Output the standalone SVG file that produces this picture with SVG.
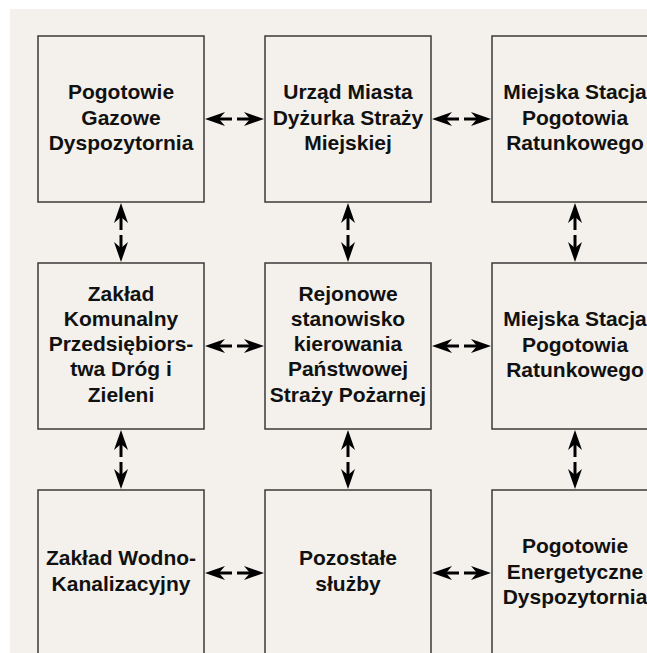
<svg xmlns="http://www.w3.org/2000/svg" width="647" height="653" viewBox="0 0 647 653">
<style>
.box{fill:none;stroke:#3a3a3a;stroke-width:1.5}
.t{font-family:"Liberation Sans",Arial,Helvetica,sans-serif;font-weight:bold;font-size:21px;fill:#111;text-anchor:middle}
.c{stroke:#000;stroke-width:3;fill:none;marker-end:url(#ah)}
</style>
<defs>
<marker id="ah" markerUnits="userSpaceOnUse" markerWidth="22" markerHeight="16" refX="6" refY="7" orient="auto" viewBox="0 0 22 16">
<path d="M0,0 L20,7 L0,14 L6,7 Z" fill="#000"/>
</marker>
</defs>
<rect x="0" y="0" width="647" height="653" fill="#ffffff"/>
<rect x="10" y="9" width="637" height="644" fill="#f4f1ec"/>

<g id="n1"><rect class="box" x="38" y="36" width="166" height="166"/>
<text class="t" x="121"><tspan x="121" y="99">Pogotowie</tspan><tspan x="121" y="124.5">Gazowe</tspan><tspan x="121" y="150">Dyspozytornia</tspan></text></g>
<g id="n2"><rect class="box" x="265" y="36" width="166" height="166"/>
<text class="t"><tspan x="348" y="99">Urząd Miasta</tspan><tspan x="348" y="124.5">Dyżurka Straży</tspan><tspan x="348" y="150">Miejskiej</tspan></text></g>
<g id="n3"><rect class="box" x="492" y="36" width="166" height="166"/>
<text class="t"><tspan x="575" y="99">Miejska Stacja</tspan><tspan x="575" y="124.5">Pogotowia</tspan><tspan x="575" y="150">Ratunkowego</tspan></text></g>

<g id="n4"><rect class="box" x="38" y="263" width="166" height="166"/>
<text class="t"><tspan x="121" y="300.5">Zakład</tspan><tspan x="121" y="325.8">Komunalny</tspan><tspan x="121" y="351">Przedsiębiors-</tspan><tspan x="121" y="376.4">twa Dróg i</tspan><tspan x="121" y="401.7">Zieleni</tspan></text></g>
<g id="n5"><rect class="box" x="265" y="263" width="166" height="166"/>
<text class="t"><tspan x="348" y="300.5">Rejonowe</tspan><tspan x="348" y="325.8">stanowisko</tspan><tspan x="348" y="351">kierowania</tspan><tspan x="348" y="376.4">Państwowej</tspan><tspan x="348" y="401.7">Straży Pożarnej</tspan></text></g>
<g id="n6"><rect class="box" x="492" y="263" width="166" height="166"/>
<text class="t"><tspan x="575" y="326">Miejska Stacja</tspan><tspan x="575" y="351.5">Pogotowia</tspan><tspan x="575" y="377">Ratunkowego</tspan></text></g>

<g id="n7"><rect class="box" x="38" y="490" width="166" height="170"/>
<text class="t"><tspan x="121" y="565">Zakład Wodno-</tspan><tspan x="121" y="590.5">Kanalizacyjny</tspan></text></g>
<g id="n8"><rect class="box" x="265" y="490" width="166" height="170"/>
<text class="t"><tspan x="348" y="565">Pozostałe</tspan><tspan x="348" y="590.5">służby</tspan></text></g>
<g id="n9"><rect class="box" x="492" y="490" width="166" height="170"/>
<text class="t"><tspan x="575" y="553">Pogotowie</tspan><tspan x="575" y="578.5">Energetyczne</tspan><tspan x="575" y="604">Dyspozytornia</tspan></text></g>

<g id="connectors">
<line class="c" x1="232" y1="119" x2="219" y2="119"/><line class="c" x1="237" y1="119" x2="250" y2="119"/>
<line class="c" x1="459" y1="119" x2="446" y2="119"/><line class="c" x1="464" y1="119" x2="477" y2="119"/>
<line class="c" x1="232" y1="346" x2="219" y2="346"/><line class="c" x1="237" y1="346" x2="250" y2="346"/>
<line class="c" x1="459" y1="346" x2="446" y2="346"/><line class="c" x1="464" y1="346" x2="477" y2="346"/>
<line class="c" x1="232" y1="573" x2="219" y2="573"/><line class="c" x1="237" y1="573" x2="250" y2="573"/>
<line class="c" x1="459" y1="573" x2="446" y2="573"/><line class="c" x1="464" y1="573" x2="477" y2="573"/>
<line class="c" x1="121" y1="230" x2="121" y2="217"/><line class="c" x1="121" y1="235" x2="121" y2="248"/>
<line class="c" x1="348" y1="230" x2="348" y2="217"/><line class="c" x1="348" y1="235" x2="348" y2="248"/>
<line class="c" x1="575" y1="230" x2="575" y2="217"/><line class="c" x1="575" y1="235" x2="575" y2="248"/>
<line class="c" x1="121" y1="457" x2="121" y2="444"/><line class="c" x1="121" y1="462" x2="121" y2="475"/>
<line class="c" x1="348" y1="457" x2="348" y2="444"/><line class="c" x1="348" y1="462" x2="348" y2="475"/>
<line class="c" x1="575" y1="457" x2="575" y2="444"/><line class="c" x1="575" y1="462" x2="575" y2="475"/>
</g>
</svg>
